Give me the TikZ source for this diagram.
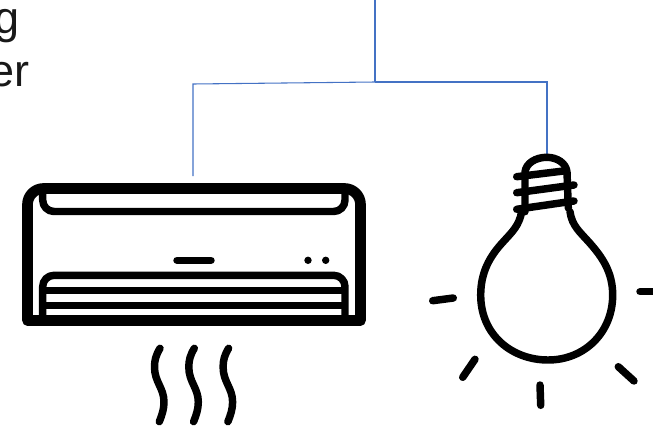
\documentclass[tikz,border=0pt]{standalone}
\usepackage{fontspec}
\setmainfont{Liberation Sans}
\usepackage{xcolor}
\usepackage{tikz}
\definecolor{wireblue}{HTML}{4472C4}

\begin{document}
\begin{tikzpicture}[
                x=0.75pt, y=-0.75pt,
                label/.style={anchor=base east, inner sep=0pt, font=\fontsize{33.75}{40}\selectfont, text=black!90},
                wire/.style={draw=wireblue, line width=0.8pt},
                body/.style={draw=black, line width=8pt, line join=round},
                part/.style={draw=black, line width=5.6pt, line join=round, line cap=round}
            ]
            \path[clip, use as bounding box] (0,0) rectangle (653,425);
            \node[label] (textg) at (20,33) {g};
            \node[label] (texter) at (30,86) {er};
            % connectors
            \coordinate (feed) at (375,0);
            \coordinate (junction) at (375,82);
            \coordinate (acin) at (193,176);
            \coordinate (bulbin) at (547,155);
            \draw[wire] (feed) -- (junction);
            \draw[wire] (acin) -- (193,84) -- (junction);
            \draw[wire] (junction) -- (547,82) -- (bulbin);
            % air conditioner
            \draw[body, rounded corners=12pt] (27.5,320.5) -- (27.5,188.5) -- (360.5,188.5) -- (360.5,320.5);
            \draw[body, line cap=round] (27.5,320.5) -- (360.5,320.5);
            \draw[part, line cap=butt, rounded corners=8.5pt] (42.7,188) -- (42.7,211.5) -- (345,211.5) -- (345,188);
            \draw[part, line cap=round] (177,260.3) -- (211,260.3);
            \fill (308,260.3) circle (3.7) (325.7,260.3) circle (3.7);
            \draw[part, line cap=butt, rounded corners=8.5pt] (42.7,318) -- (42.7,275.3) -- (345,275.3) -- (345,318);
            \draw[part, line cap=butt] (42.7,290.7) -- (345,290.7);
            \draw[part, line cap=butt] (42.7,305.7) -- (345,305.7);
            % air waves
            \foreach \i in {0,34.3,68.6} {
                \draw[part, xshift=\i*0.75pt] (160,348.3) .. controls (156,355) and (154.5,360) .. (154.5,367)
                    .. controls (154.5,382) and (164,388) .. (164,402) .. controls (164,409) and (162,415) .. (159.3,421.7);
            }
            % bulb
            \draw[part] (521.7,211.7) .. controls (519,226) and (512,232) .. (503.3,241.7)
                .. controls (490,256) and (480.7,272) .. (480.7,295)
                .. controls (480.7,335) and (512,360) .. (548,360)
                .. controls (585,360) and (612.7,332) .. (612.7,295)
                .. controls (612.7,272) and (602,257) .. (590,243.3)
                .. controls (580,232) and (572,226) .. (570,211.7);
            \draw[part] (525,211.7) -- (525,172) .. controls (526,163) and (536,157.3) .. (546.7,157.3)
                .. controls (557,157.3) and (566,163) .. (567,172) -- (568.3,208);
            \draw[part] (516.7,176.7) -- (566,170.7);
            \draw[part] (516.7,192.7) -- (574,185);
            \draw[part] (516.7,209.3) -- (574,201);
            % rays
            \draw[part] (432.7,300.7) -- (453.3,298);
            \draw[part] (640,291.7) -- (660,291.7);
            \draw[part] (462.7,377.3) -- (475,359.3);
            \draw[part] (540,385) -- (540.7,405.3);
            \draw[part] (618.3,366.7) -- (634,381);
        \end{tikzpicture}
\end{document}
